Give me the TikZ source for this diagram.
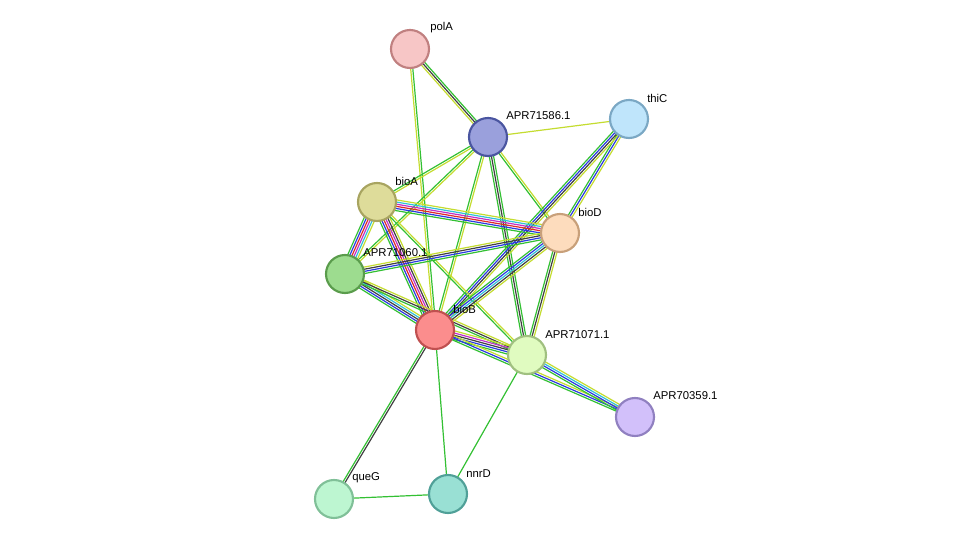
\documentclass[tikz,border=0pt]{standalone}
\usepackage{fontspec}
\setmainfont{Liberation Sans}
\usetikzlibrary{calc}
\definecolor{gr}{HTML}{33C033}
\definecolor{yl}{HTML}{C4DC30}
\definecolor{bl}{HTML}{2A3AE0}
\definecolor{rd}{HTML}{E02828}
\definecolor{mg}{HTML}{C030C8}
\definecolor{cy}{HTML}{30C0D8}
\definecolor{bk}{HTML}{404040}
\newcommand\medge[4]{\foreach \c [count=\i] in {#4}{\pgfmathsetmacro\o{(\i-(#3+1)/2)*1.6}\draw[\c,line width=0.9pt] ($(#1)!\o pt!90:(#2)$) -- ($(#2)!\o pt!-90:(#1)$);}}
\tikzset{prot/.style={circle,minimum size=28.5pt,inner sep=0pt,line width=1.6pt},
 lab/.style={anchor=west,inner sep=0pt,font=\fontsize{8.5}{10}\selectfont}}
\begin{document}
\begin{tikzpicture}[x=0.75pt,y=-0.75pt]
\useasboundingbox (0,0) rectangle (976,545);
\coordinate (polA) at (410,49);
\coordinate (a586) at (488,137);
\coordinate (thiC) at (629,119);
\coordinate (bioA) at (377,202);
\coordinate (bioD) at (560,233);
\coordinate (a060) at (345,274);
\coordinate (bioB) at (435,330);
\coordinate (a071) at (527,355);
\coordinate (a359) at (635,417);
\coordinate (queG) at (334,499);
\coordinate (nnrD) at (448,494);
\medge{polA}{a586}{3}{yl,bk,gr}
\medge{polA}{bioB}{2}{yl,gr}
\medge{a586}{thiC}{1}{yl}
\medge{a586}{bioA}{2}{gr,yl}
\medge{a586}{a060}{2}{gr,yl}
\medge{a586}{bioD}{2}{gr,yl}
\medge{a586}{bioB}{2}{gr,yl}
\medge{a586}{a071}{3}{gr,bk,gr}
\medge{thiC}{bioD}{3}{gr,bl,yl}
\medge{thiC}{bioB}{4}{gr,bl,bk,yl}
\medge{bioA}{bioD}{6}{gr,bl,rd,mg,cy,yl}
\medge{bioA}{a060}{6}{gr,bl,rd,mg,cy,yl}
\medge{bioA}{bioB}{6}{gr,bl,rd,mg,bk,yl}
\medge{bioA}{a071}{2}{gr,yl}
\medge{a060}{bioD}{4}{gr,bl,bk,yl}
\medge{a060}{bioB}{5}{gr,bl,bk,cy,yl}
\medge{a060}{a071}{3}{gr,bk,yl}
\medge{bioD}{bioB}{5}{gr,bl,cy,bk,yl}
\medge{bioD}{a071}{3}{gr,bk,yl}
\medge{bioB}{a071}{5}{gr,bl,bk,mg,yl}
\medge{bioB}{a359}{3}{gr,bl,yl}
\medge{a071}{a359}{4}{gr,bl,cy,yl}
\medge{bioB}{queG}{2}{gr,bk}
\medge{bioB}{nnrD}{1}{gr}
\medge{a071}{nnrD}{1}{gr}
\medge{queG}{nnrD}{1}{gr}
\node[prot,fill={rgb,255:red,247;green,198;blue,198},draw={rgb,255:red,192;green,128;blue,128}] (n-polA) at (polA) {};
\node[prot,fill={rgb,255:red,154;green,160;blue,220},draw={rgb,255:red,74;green,85;blue,160}] (n-a586) at (a586) {};
\node[prot,fill={rgb,255:red,191;green,229;blue,251},draw={rgb,255:red,123;green,168;blue,196}] (n-thiC) at (thiC) {};
\node[prot,fill={rgb,255:red,222;green,220;blue,154},draw={rgb,255:red,168;green,164;blue,96}] (n-bioA) at (bioA) {};
\node[prot,fill={rgb,255:red,253;green,220;blue,189},draw={rgb,255:red,200;green,160;blue,122}] (n-bioD) at (bioD) {};
\node[prot,fill={rgb,255:red,157;green,220;blue,143},draw={rgb,255:red,90;green,156;blue,76}] (n-a060) at (a060) {};
\node[prot,fill={rgb,255:red,251;green,141;blue,141},draw={rgb,255:red,192;green,80;blue,80}] (n-bioB) at (bioB) {};
\node[prot,fill={rgb,255:red,224;green,251;blue,192},draw={rgb,255:red,160;green,192;blue,128}] (n-a071) at (a071) {};
\node[prot,fill={rgb,255:red,210;green,192;blue,250},draw={rgb,255:red,144;green,128;blue,192}] (n-a359) at (a359) {};
\node[prot,fill={rgb,255:red,189;green,246;blue,209},draw={rgb,255:red,128;green,192;blue,152}] (n-queG) at (queG) {};
\node[prot,fill={rgb,255:red,153;green,224;blue,212},draw={rgb,255:red,80;green,160;blue,152}] (n-nnrD) at (nnrD) {};
\node[lab] (l-polA) at (430,28) {polA};
\node[lab] (l-a586) at (506,116) {APR71586.1};
\node[lab] (l-thiC) at (647,98) {thiC};
\node[lab] (l-bioA) at (395,181) {bioA};
\node[lab] (l-bioD) at (578,212) {bioD};
\node[lab] (l-a060) at (363,253) {APR71060.1};
\node[lab] (l-bioB) at (453,309) {bioB};
\node[lab] (l-a071) at (545,335) {APR71071.1};
\node[lab] (l-a359) at (653,396) {APR70359.1};
\node[lab] (l-queG) at (352,478) {queG};
\node[lab] (l-nnrD) at (466,474) {nnrD};
\end{tikzpicture}
\end{document}
